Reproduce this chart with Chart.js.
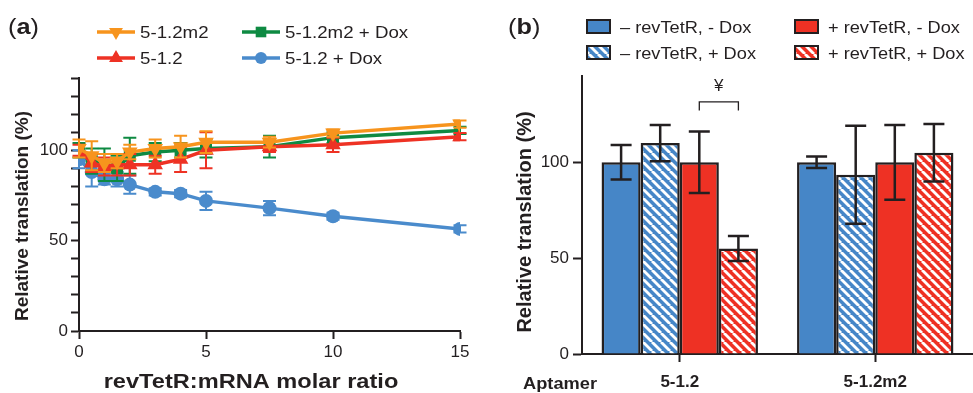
<!DOCTYPE html>
<html lang="en">
<head>
<meta charset="UTF-8">
<title>Relative translation</title>
<script src="https://cdn.jsdelivr.net/npm/chart.js"></script>
<style>
    body { margin: 0; background: #fff; }
    .panel { position: absolute; top: 0; height: 393px; }
    #panelA { left: 0; width: 490px; }
    #panelB { left: 490px; width: 483px; }
</style>
</head>
<body>

<div class="panel" id="panelA"><canvas id="chartA"></canvas></div>
<div class="panel" id="panelB"><canvas id="chartB"></canvas></div>

<script>
    const INK = '#231f20';
    const FONT = "'Liberation Sans', Arial, Helvetica, sans-serif";

    // (a) relative translation vs revTetR:mRNA molar ratio
    const ratioX     = [0, 0.5, 1, 1.5, 2, 3, 4, 5, 7.5, 10, 15];
    const m2Vals     = [101, 97, 93, 94, 99, 101, 102, 104.5, 104.5, 109.5, 114.5];
    const m2Err      = [5, 8, 5, 4, 4, 5, 6, 6, 3, 2, 2];
    const m2DoxVals  = [100, 94, 92, 90, 97, 99, 100, 101, 102, 107, 111];
    const m2DoxErr   = [4, 7, 9, 7, 10, 5, 4, 5, 6, 3, 2];
    const aptVals    = [100, 93, 91, 92, 92, 92, 95, 100, 102, 103, 107.5];
    const aptErr     = [3, 5, 5, 6, 6, 5, 7, 10, 3, 4, 2];
    const aptDoxVals = [95, 88, 84, 84, 81, 77, 76, 72, 68, 63.5, 56.5];
    const aptDoxErr  = [5, 8, 3, 4, 5, 2, 2, 5, 4, 2, 2];
    const yLabelsA   = [0, 50, 100];

    // (b) relative translation per aptamer
    const aptamers      = ['5-1.2', '5-1.2m2'];
    const noRevNoDox    = [100, 100];
    const noRevNoDoxErr = [9, 3];
    const noRevDox      = [110, 93.5];
    const noRevDoxErr   = [9.5, 25.5];
    const revNoDox      = [100, 100];
    const revNoDoxErr   = [16, 19.5];
    const revDox        = [55, 105];
    const revDoxErr     = [6.5, 15];
    const sigLevel = 131.5;   // bracket between the two + revTetR bars of 5-1.2

    function drawLabel(ctx, text, x, y, o) {
        ctx.save();
        ctx.translate(x, y);
        if (o.rotate) ctx.rotate(o.rotate);
        ctx.scale(o.sx || 1, 1);
        ctx.font = o.font;
        ctx.fillStyle = o.color || INK;
        ctx.textAlign = o.align || 'left';
        ctx.textBaseline = 'alphabetic';
        ctx.fillText(text, 0, 0);
        ctx.restore();
    }

    function panelTag(ctx, letter, x, y) {
        ctx.save();
        ctx.translate(x, y);
        ctx.scale(1.15, 1);
        ctx.fillStyle = INK;
        ctx.textAlign = 'left';
        ctx.textBaseline = 'alphabetic';
        let cx = 0;
        [['(', ''], [letter, 'bold '], [')', '']].forEach(([t, w]) => {
            ctx.font = w + '22px ' + FONT;
            ctx.fillText(t, cx, 0);
            cx += ctx.measureText(t).width;
        });
        ctx.restore();
    }

    function hatch(color) {
        const s = 9;
        const c = document.createElement('canvas');
        c.width = c.height = s;
        const g = c.getContext('2d');
        g.fillStyle = color;
        g.fillRect(0, 0, s, s);
        g.strokeStyle = '#fff';
        g.lineWidth = 2.8;
        [-s, 0, s].forEach(k => {
            g.beginPath();
            g.moveTo(k, 0);
            g.lineTo(k + s, s);
            g.stroke();
        });
        return g.createPattern(c, 'repeat');
    }

    function axisStyle(extra) {
        return Object.assign({
            grid: { drawOnChartArea: false, drawTicks: true, tickLength: 8, tickColor: INK, tickWidth: 2 },
            border: { color: INK, width: 2 },
        }, extra);
    }

    // ---------- panel (a) ----------
    const seriesA = [
        { label: '5-1.2m2',       data: m2Vals,     errors: m2Err,     color: '#f7941d', style: 'triangle', rotation: 180, radius: 9, order: 0 },
        { label: '5-1.2m2 + Dox', data: m2DoxVals,  errors: m2DoxErr,  color: '#0e8a42', style: 'rect',     rotation: 0,   radius: 8.5, order: 2 },
        { label: '5-1.2',         data: aptVals,    errors: aptErr,    color: '#ee3224', style: 'triangle', rotation: 0,   radius: 9, order: 1 },
        { label: '5-1.2 + Dox',   data: aptDoxVals, errors: aptDoxErr, color: '#4a8bcc', style: 'circle',   rotation: 0,   radius: 7, order: 3 },
    ];

    const panelAPlugin = {
        id: 'panelA',
        beforeDatasetDraw(chart, args) {
            const ds = chart.data.datasets[args.index];
            const y = chart.scales.y;
            const ctx = chart.ctx;
            ctx.save();
            ctx.strokeStyle = ds.borderColor;
            ctx.lineWidth = 2;
            args.meta.data.forEach((pt, i) => {
                const v = ds.data[i].y, e = ds.errors[i];
                const y1 = y.getPixelForValue(v + e), y2 = y.getPixelForValue(v - e);
                ctx.beginPath();
                ctx.moveTo(pt.x, y1); ctx.lineTo(pt.x, y2);
                ctx.moveTo(pt.x - 6.5, y1); ctx.lineTo(pt.x + 6.5, y1);
                ctx.moveTo(pt.x - 6.5, y2); ctx.lineTo(pt.x + 6.5, y2);
                ctx.stroke();
            });
            ctx.restore();
        },
        afterDraw(chart) {
            const ctx = chart.ctx;
            panelTag(ctx, 'a', 8, 34);

            // legend, 2 x 2
            const spots = [[97, 32], [242, 32], [97, 58], [242, 58]];
            chart.data.datasets.forEach((ds, k) => {
                const [x, y] = spots[k];
                ctx.save();
                ctx.strokeStyle = ds.borderColor;
                ctx.fillStyle = ds.borderColor;
                ctx.lineWidth = 3.5;
                ctx.beginPath();
                ctx.moveTo(x, y); ctx.lineTo(x + 38, y);
                ctx.stroke();
                Chart.helpers.drawPoint(ctx, {
                    pointStyle: ds.pointStyle, radius: ds.pointRadius - 1,
                    rotation: ds.pointRotation, borderWidth: 0
                }, x + 19, y);
                ctx.restore();
                drawLabel(ctx, ds.label, x + 43, y + 6, { font: '17px ' + FONT, sx: 1.1 });
            });

            drawLabel(ctx, 'Relative translation (%)', 27.5, 216,
                { font: 'bold 19px ' + FONT, rotate: -Math.PI / 2, align: 'center' });
            drawLabel(ctx, 'revTetR:mRNA molar ratio', 251, 388,
                { font: 'bold 20px ' + FONT, sx: 1.18, align: 'center' });
        }
    };

    new Chart(document.getElementById('chartA'), {
        type: 'line',
        data: {
            datasets: seriesA.map(s => ({
                label: s.label,
                data: ratioX.map((x, i) => ({ x: x, y: s.data[i] })),
                errors: s.errors,
                borderColor: s.color,
                backgroundColor: s.color,
                borderWidth: 3.5,
                tension: 0,
                pointStyle: s.style,
                pointRotation: s.rotation,
                pointRadius: s.radius,
                pointBorderWidth: 0,
                pointBackgroundColor: s.color,
                order: s.order
            }))
        },
        options: {
            responsive: true,
            maintainAspectRatio: false,
            animation: false,
            events: [],
            layout: { padding: { top: 78, right: 30, left: 0, bottom: 0 } },
            plugins: { legend: { display: false }, tooltip: { enabled: false } },
            scales: {
                x: axisStyle({
                    type: 'linear', min: 0, max: 15,
                    ticks: { stepSize: 5, color: INK, font: { family: FONT, size: 17 }, padding: 3, maxRotation: 0 },
                    afterFit: s => { s.height = 62; }
                }),
                y: axisStyle({
                    min: 0, max: 140,
                    ticks: {
                        stepSize: 10, autoSkip: false, color: INK, font: { family: FONT, size: 17 }, padding: 3,
                        callback: v => yLabelsA.includes(v) ? v : ''
                    },
                    afterFit: s => { s.width = 79; }
                })
            }
        },
        plugins: [panelAPlugin]
    });

    // ---------- panel (b) ----------
    const blue = '#4686c7', red = '#ee3124';
    const seriesB = [
        { label: '\u2013 revTetR, - Dox', data: noRevNoDox, errors: noRevNoDoxErr, fill: blue },
        { label: '\u2013 revTetR, + Dox', data: noRevDox,   errors: noRevDoxErr,   fill: hatch(blue) },
        { label: '+ revTetR, - Dox',      data: revNoDox,   errors: revNoDoxErr,   fill: red },
        { label: '+ revTetR, + Dox',      data: revDox,     errors: revDoxErr,     fill: hatch(red) },
    ];

    const panelBPlugin = {
        id: 'panelB',
        afterDatasetsDraw(chart) {
            const ctx = chart.ctx;
            const y = chart.scales.y;
            ctx.save();
            ctx.strokeStyle = INK;
            ctx.lineWidth = 2.5;
            chart.data.datasets.forEach((ds, d) => {
                chart.getDatasetMeta(d).data.forEach((bar, i) => {
                    const v = ds.data[i], e = ds.errors[i];
                    const y1 = y.getPixelForValue(v + e), y2 = y.getPixelForValue(v - e);
                    ctx.beginPath();
                    ctx.moveTo(bar.x, y1); ctx.lineTo(bar.x, y2);
                    ctx.moveTo(bar.x - 10.5, y1); ctx.lineTo(bar.x + 10.5, y1);
                    ctx.moveTo(bar.x - 10.5, y2); ctx.lineTo(bar.x + 10.5, y2);
                    ctx.stroke();
                });
            });

            // significance bracket
            const xa = chart.getDatasetMeta(2).data[0].x;
            const xb = chart.getDatasetMeta(3).data[0].x;
            const yTop = y.getPixelForValue(sigLevel);
            const yLeg = y.getPixelForValue(sigLevel - 4.5);
            ctx.lineWidth = 1.3;
            ctx.beginPath();
            ctx.moveTo(xa, yLeg); ctx.lineTo(xa, yTop); ctx.lineTo(xb, yTop); ctx.lineTo(xb, yLeg);
            ctx.stroke();
            ctx.restore();
            drawLabel(ctx, '\u00a5', (xa + xb) / 2, y.getPixelForValue(sigLevel + 5.5),
                { font: '17px ' + FONT, align: 'center' });
        },
        afterDraw(chart) {
            const ctx = chart.ctx;
            panelTag(ctx, 'b', 18, 34);

            const spots = [[97, 20], [97, 46], [305, 20], [305, 46]];
            chart.data.datasets.forEach((ds, k) => {
                const [x, y] = spots[k];
                ctx.save();
                ctx.fillStyle = ds.backgroundColor;
                ctx.fillRect(x, y, 23, 13);
                ctx.strokeStyle = INK;
                ctx.lineWidth = 2;
                ctx.strokeRect(x, y, 23, 13);
                ctx.restore();
                drawLabel(ctx, ds.label, x + 33, y + 13, { font: '17px ' + FONT, sx: 1.07 });
            });

            drawLabel(ctx, 'Relative translation (%)', 41, 222,
                { font: 'bold 20px ' + FONT, rotate: -Math.PI / 2, align: 'center' });
            drawLabel(ctx, 'Aptamer', 70, 389,
                { font: 'bold 16px ' + FONT, sx: 1.14, align: 'center' });
        }
    };

    new Chart(document.getElementById('chartB'), {
        type: 'bar',
        data: {
            labels: aptamers,
            datasets: seriesB.map(s => ({
                label: s.label,
                data: s.data,
                errors: s.errors,
                backgroundColor: s.fill,
                borderColor: INK,
                borderWidth: 2.5,
                categoryPercentage: 0.8,
                barPercentage: 1.0
            }))
        },
        options: {
            responsive: true,
            maintainAspectRatio: false,
            animation: false,
            events: [],
            layout: { padding: { top: 76, right: 0, left: 0, bottom: 0 } },
            plugins: { legend: { display: false }, tooltip: { enabled: false } },
            scales: {
                x: axisStyle({
                    offset: true,
                    grid: { offset: false, drawOnChartArea: false, drawTicks: true, tickLength: 8, tickColor: INK, tickWidth: 2 },
                    ticks: { color: INK, font: { family: FONT, size: 17, weight: 'bold' }, padding: 10, maxRotation: 0 },
                    afterFit: s => { s.height = 39; }
                }),
                y: axisStyle({
                    min: 0, max: 145,
                    grid: { drawOnChartArea: false, drawTicks: true, tickLength: 9, tickColor: INK, tickWidth: 2 },
                    ticks: { stepSize: 50, autoSkip: false, includeBounds: false, color: INK, font: { family: FONT, size: 17 }, padding: 4 },
                    afterFit: s => { s.width = 92; }
                })
            }
        },
        plugins: [panelBPlugin]
    });
</script>
</body>
</html>
